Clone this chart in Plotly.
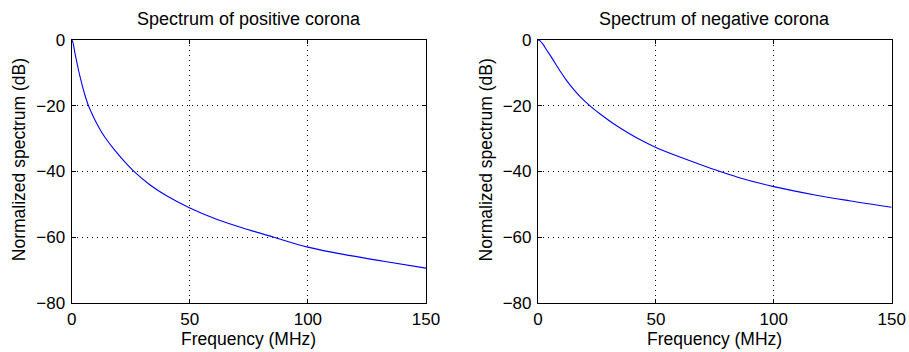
import plotly.graph_objects as go

# Normalized corona pulse spectra (dB) versus frequency (MHz)
pos_freq = [0, 0.3, 0.7, 1.4, 2.0, 2.9, 3.5, 4.6, 5.5, 6.9, 8.3, 10, 12, 14,
            18.3, 22, 26.7, 33.2, 40, 50, 61.6, 75.7, 85.6, 100, 118, 132, 150]
pos_db = [0, -0.3, -1.3, -4.1, -6.1, -9.2, -11.1, -14.2, -16.5, -19.6, -22.0,
          -24.6, -27.2, -29.5, -33.6, -36.7, -40.2, -44.1, -47.3, -51.1, -54.6,
          -57.9, -60, -63.0, -65.6, -67.3, -69.4]

neg_freq = [0, 1, 2, 3.8, 6, 9.5, 12, 15.1, 18.5, 22.3, 26.5, 31.9, 39, 44,
            50, 61.6, 74.3, 85, 100, 118, 132, 150]
neg_db = [0, -0.35, -1.2, -3.2, -5.6, -9.6, -12.2, -15.0, -17.7, -20.2, -22.6,
          -25.4, -28.6, -30.6, -32.7, -36.0, -39.3, -41.8, -44.6, -47.2, -48.9,
          -50.9]

titles = ["Spectrum of positive corona", "Spectrum of negative corona"]
x_label = "Frequency (MHz)"
y_label = "Normalized spectrum (dB)"
x_ticks = [0, 50, 100, 150]
y_ticks = [0, -20, -40, -60, -80]

W, H = 909, 352
FONT = "Liberation Sans, Arial, Helvetica, sans-serif"

# pixel boxes of the two axes: (left, right), (top, bottom)
boxes = [((71.7, 426.0), (40.0, 303.0)), ((538.0, 891.7), (40.0, 303.0))]

fig = go.Figure()
series = [(pos_freq, pos_db), (neg_freq, neg_db)]
for i, (fx, fy) in enumerate(series, start=1):
    fig.add_trace(go.Scatter(
        x=fx, y=fy, mode="lines",
        line=dict(color="#0000ff", width=1.1, shape="spline", smoothing=1.0),
        xaxis=f"x{i}", yaxis=f"y{i}", showlegend=False, hoverinfo="skip"))

axis_common = dict(
    showline=True, linecolor="black", linewidth=1.2, mirror="ticks",
    ticks="inside", ticklen=4, tickwidth=1, tickcolor="black",
    showgrid=True, gridcolor="#000000", gridwidth=1, griddash="1px,4px",
    zeroline=False, automargin=False,
    tickfont=dict(family=FONT, size=17, color="black"),
)

layout = dict(
    width=W, height=H, margin=dict(l=0, r=0, t=0, b=0, autoexpand=False),
    paper_bgcolor="white", plot_bgcolor="white",
    font=dict(family=FONT, color="black"),
    annotations=[],
)

for i, ((xl, xr), (yt, yb)) in enumerate(boxes, start=1):
    sfx = "" if i == 1 else str(i)
    layout[f"xaxis{sfx}"] = dict(
        axis_common, domain=[xl / W, xr / W], range=[0, 150],
        tickvals=x_ticks, ticktext=[str(v) for v in x_ticks],
        anchor=f"y{sfx}", ticklabelstandoff=0)
    layout[f"yaxis{sfx}"] = dict(
        axis_common, domain=[1 - yb / H, 1 - yt / H], range=[-80, 0],
        tickvals=y_ticks, anchor=f"x{sfx}", ticklabelstandoff=2)
    cx = (xl + xr) / 2
    layout["annotations"] += [
        dict(text=titles[i - 1], x=cx / W, y=1 - 19 / H, xref="paper", yref="paper",
             xanchor="center", yanchor="middle", showarrow=False,
             font=dict(family=FONT, size=18, color="black")),
        dict(text=x_label, x=cx / W, y=1 - 339 / H, xref="paper", yref="paper",
             xanchor="center", yanchor="middle", showarrow=False,
             font=dict(family=FONT, size=17.5, color="black")),
        dict(text=y_label, x=(xl - 52.5) / W, y=1 - 160 / H, xref="paper", yref="paper",
             xanchor="center", yanchor="middle", showarrow=False, textangle=-90,
             font=dict(family=FONT, size=17.5, color="black")),
    ]

fig.update_layout(**layout)
fig.write_html("out.html")
